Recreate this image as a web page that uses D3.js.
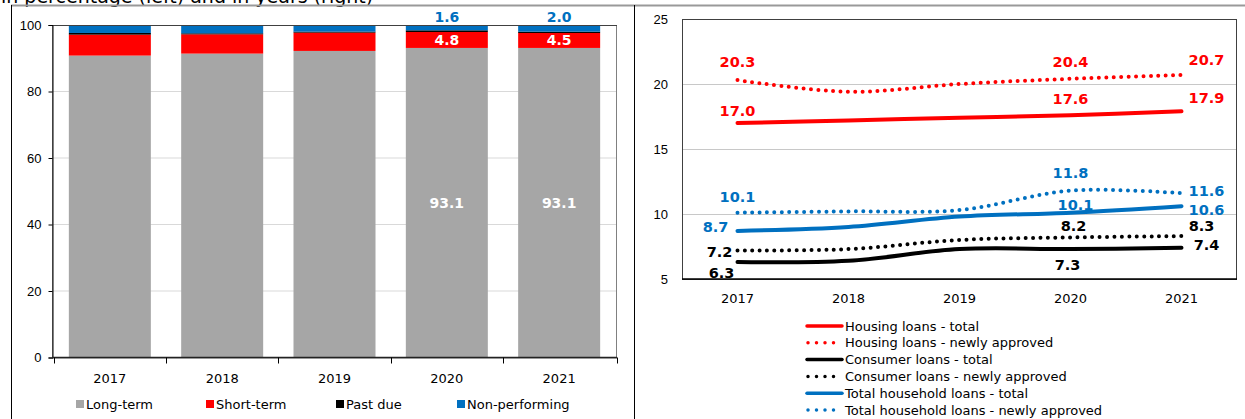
<!DOCTYPE html>
<html><head><meta charset="utf-8">
<script src="https://cdn.jsdelivr.net/npm/d3@7"></script>
<style>
body{margin:0;background:#fff;}
svg{display:block;font-family:"DejaVu Sans",Verdana,sans-serif;}
</style></head>
<body><svg id="c" width="1245" height="419"></svg>
<script>
// ---------- DATA ----------
const years = ["2017","2018","2019","2020","2021"];
// left chart: structure of household loans (%)
const longTerm      = [90.8, 91.4, 92.2, 93.1, 93.1];
const shortTerm     = [6.3, 5.8, 5.5, 4.8, 4.5];
const pastDue       = [0.5, 0.3, 0.3, 0.5, 0.4];
const nonPerforming = [2.4, 2.5, 2.0, 1.6, 2.0];
const stackNames = ["Long-term","Short-term","Past due","Non-performing"];
const leftTicks = [0,20,40,60,80,100];
// right chart: average maturity (years)
const housingTotal   = [17.0, 17.2, 17.4, 17.6, 17.9];
const housingNew     = [20.3, 19.4, 20.0, 20.4, 20.7];
const consumerTotal  = [6.3, 6.4, 7.3, 7.3, 7.4];
const consumerNew    = [7.2, 7.3, 8.0, 8.2, 8.3];
const householdTotal = [8.7, 9.0, 9.8, 10.1, 10.6];
const householdNew   = [10.1, 10.2, 10.3, 11.8, 11.6];
const rightTicks = [5,10,15,20,25];
const lineNames = ["Housing loans - total","Housing loans - newly approved","Consumer loans - total","Consumer loans - newly approved","Total household loans - total","Total household loans - newly approved"];
const titleText = "in percentage (left) and in years (right)";

// ---------- STYLE / LAYOUT ----------
const stackColors = ["#a6a6a6","#ff0000","#000000","#0070c0"];
const lineColors = ["#ff0000","#ff0000","#000000","#000000","#0070c0","#0070c0"];
const lineDotted = [false,true,false,true,false,true];
// label placements (index of point, dx, dy) per series
const labelPlacement = [
  [[0,0,-13],[3,0,-17],[4,25,-14]],
  [[0,0,-19],[3,0,-17],[4,25,-15]],
  [[0,-16,10],[3,-3,15],[4,25,-3]],
  [[0,-18,1],[3,3,-12],[4,20,-11]],
  [[0,-22,-4],[3,5,-8],[4,25,3]],
  [[0,0,-16],[3,0,-18],[4,25,-3]]
];

const svg = d3.select("#c");

// frame lines
svg.append("text").attr("x",1).attr("y",3).attr("font-size",19).attr("fill","#000").text(titleText);
svg.append("line").attr("x1",11).attr("x2",1245).attr("y1",5.5).attr("y2",5.5).attr("stroke","#999").attr("stroke-width",2);
svg.append("line").attr("x1",11.5).attr("x2",11.5).attr("y1",5).attr("y2",419).attr("stroke","#000").attr("stroke-width",1);
svg.append("line").attr("x1",634.5).attr("x2",634.5).attr("y1",5).attr("y2",419).attr("stroke","#000").attr("stroke-width",1);

// ---------- LEFT CHART ----------
const L = {l:52, r:617, t:25, b:357.5};
const xL = d3.scaleBand().domain(years).range([L.l, L.r]).paddingInner(0.27).paddingOuter(0.15);
const yL = d3.scaleLinear().domain([0,100]).range([L.b, L.t]);
const gL = svg.append("g");
gL.selectAll(".g").data(leftTicks.filter(t=>t>0 && t<100)).join("line")
  .attr("x1",L.l).attr("x2",L.r).attr("y1",d=>yL(d)).attr("y2",d=>yL(d))
  .attr("stroke","#d9d9d9").attr("stroke-width",1);
const table = years.map((y,i)=>({year:y, "Long-term":longTerm[i], "Short-term":shortTerm[i], "Past due":pastDue[i], "Non-performing":nonPerforming[i]}));
const series = d3.stack().keys(stackNames)(table);
series.forEach((s,k)=>{
  gL.selectAll(null).data(s).join("rect")
    .attr("x",d=>xL(d.data.year)).attr("width",xL.bandwidth())
    .attr("y",d=>yL(Math.min(d[1],100))).attr("height",d=>yL(d[0])-yL(Math.min(d[1],100)))
    .attr("fill",stackColors[k]);
});
gL.append("rect").attr("x",L.l+0.5).attr("y",L.t+0.5).attr("width",L.r-L.l-1).attr("height",L.b-L.t)
  .attr("fill","none").attr("stroke","#808080").attr("stroke-width",1);
gL.append("line").attr("x1",L.l).attr("x2",L.r).attr("y1",L.t+0.5).attr("y2",L.t+0.5).attr("stroke","#404040");
const axL = d3.axisLeft(yL).tickValues(leftTicks).tickSize(4).tickPadding(7);
const gyL = gL.append("g").attr("transform",`translate(${L.l+0.5},0)`).call(axL);
gyL.select(".domain").attr("stroke","#000");
gyL.selectAll("text").attr("font-size",13).attr("fill","#000");
gL.append("line").attr("x1",L.l).attr("x2",L.r).attr("y1",L.b).attr("y2",L.b).attr("stroke","#222").attr("stroke-width",1.5);
const bounds = years.map(y=>xL(y)-xL.step()*xL.paddingInner()/2).concat([L.r-0.5]);
gL.selectAll(".xt").data(bounds).join("line")
  .attr("x1",d=>Math.round(d)+0.5).attr("x2",d=>Math.round(d)+0.5).attr("y1",L.b).attr("y2",L.b+6)
  .attr("stroke","#000");
gL.selectAll(".xl").data(years).join("text")
  .attr("x",d=>xL(d)+xL.bandwidth()/2).attr("y",383).attr("text-anchor","middle")
  .attr("font-size",13).text(d=>d);
[3,4].forEach(i=>{
  const cx = xL(years[i])+xL.bandwidth()/2;
  const lt = series[0][i], st = series[1][i];
  gL.append("text").attr("x",cx).attr("y",(yL(lt[0])+yL(lt[1]))/2+5).attr("text-anchor","middle")
    .attr("font-size",14).attr("font-weight","bold").attr("fill","#fff").text(longTerm[i].toFixed(1));
  gL.append("text").attr("x",cx).attr("y",(yL(st[0])+yL(st[1]))/2+5).attr("text-anchor","middle")
    .attr("font-size",14).attr("font-weight","bold").attr("fill","#fff").text(shortTerm[i].toFixed(1));
  gL.append("text").attr("x",cx).attr("y",yL(100)-3).attr("text-anchor","middle")
    .attr("font-size",14).attr("font-weight","bold").attr("fill","#0070c0").text(nonPerforming[i].toFixed(1));
});
const legXs = [76,206,336,457];
stackNames.forEach((n,k)=>{
  gL.append("rect").attr("x",legXs[k]).attr("y",400).attr("width",8).attr("height",8).attr("fill",stackColors[k]);
  gL.append("text").attr("x",legXs[k]+10).attr("y",409).attr("font-size",13).text(n);
});

// ---------- RIGHT CHART ----------
const R = {l:682, r:1237, t:19, b:279};
const xR = d3.scalePoint().domain(years).range([R.l, R.r]).padding(0.5);
const yR = d3.scaleLinear().domain([5,25]).range([R.b, R.t]);
const gR = svg.append("g");
gR.selectAll(".g").data(rightTicks.filter(t=>t>5 && t<25)).join("line")
  .attr("x1",R.l).attr("x2",R.r).attr("y1",d=>yR(d)+0.5).attr("y2",d=>yR(d)+0.5)
  .attr("stroke","#c8c8c8");
gR.append("rect").attr("x",R.l+0.5).attr("y",R.t+0.5).attr("width",R.r-R.l-1).attr("height",R.b-R.t)
  .attr("fill","none").attr("stroke","#404040");
gR.append("line").attr("x1",R.l).attr("x2",R.r).attr("y1",R.b).attr("y2",R.b).attr("stroke","#000").attr("stroke-width",1.5);
const ayR = d3.axisLeft(yR).tickValues(rightTicks).tickSize(0).tickPadding(14);
const gyR = gR.append("g").attr("transform",`translate(${R.l},0)`).call(ayR);
gyR.select(".domain").remove();
gyR.selectAll("text").attr("font-size",13).attr("fill","#000");
gR.selectAll(".xl").data(years).join("text")
  .attr("x",d=>xR(d)).attr("y",303).attr("text-anchor","middle").attr("font-size",13).text(d=>d);

const allLines = [housingTotal, housingNew, consumerTotal, consumerNew, householdTotal, householdNew];
const lineGen = d3.line().x((d,i)=>xR(years[i])).y(d=>yR(d)).curve(d3.curveCatmullRom.alpha(0.5));
allLines.forEach((vals,k)=>{
  const p = gR.append("path").attr("d",lineGen(vals)).attr("fill","none")
    .attr("stroke",lineColors[k]).attr("stroke-linecap","round").attr("stroke-width",4);
  if(lineDotted[k]) p.attr("stroke-dasharray","0 7.4");
});
allLines.forEach((vals,k)=>{
  labelPlacement[k].forEach(([i,dx,dy])=>{
    gR.append("text").attr("x",xR(years[i])+dx).attr("y",yR(vals[i])+dy+5.5)
      .attr("text-anchor","middle").attr("font-size",14.5).attr("font-weight","bold")
      .attr("fill",lineColors[k]).text(vals[i].toFixed(1));
  });
});
lineNames.forEach((n,k)=>{
  const y = 326 + k*16.8;
  const l = gR.append("line").attr("x1",807).attr("x2",842).attr("y1",y).attr("y2",y)
    .attr("stroke",lineColors[k]).attr("stroke-linecap","round").attr("stroke-width",3.5);
  if(lineDotted[k]) l.attr("x1",808).attr("x2",840).attr("stroke-dasharray","0 8.5");
  gR.append("text").attr("x",845).attr("y",y+4.5).attr("font-size",13).text(n);
});
</script></body></html>
